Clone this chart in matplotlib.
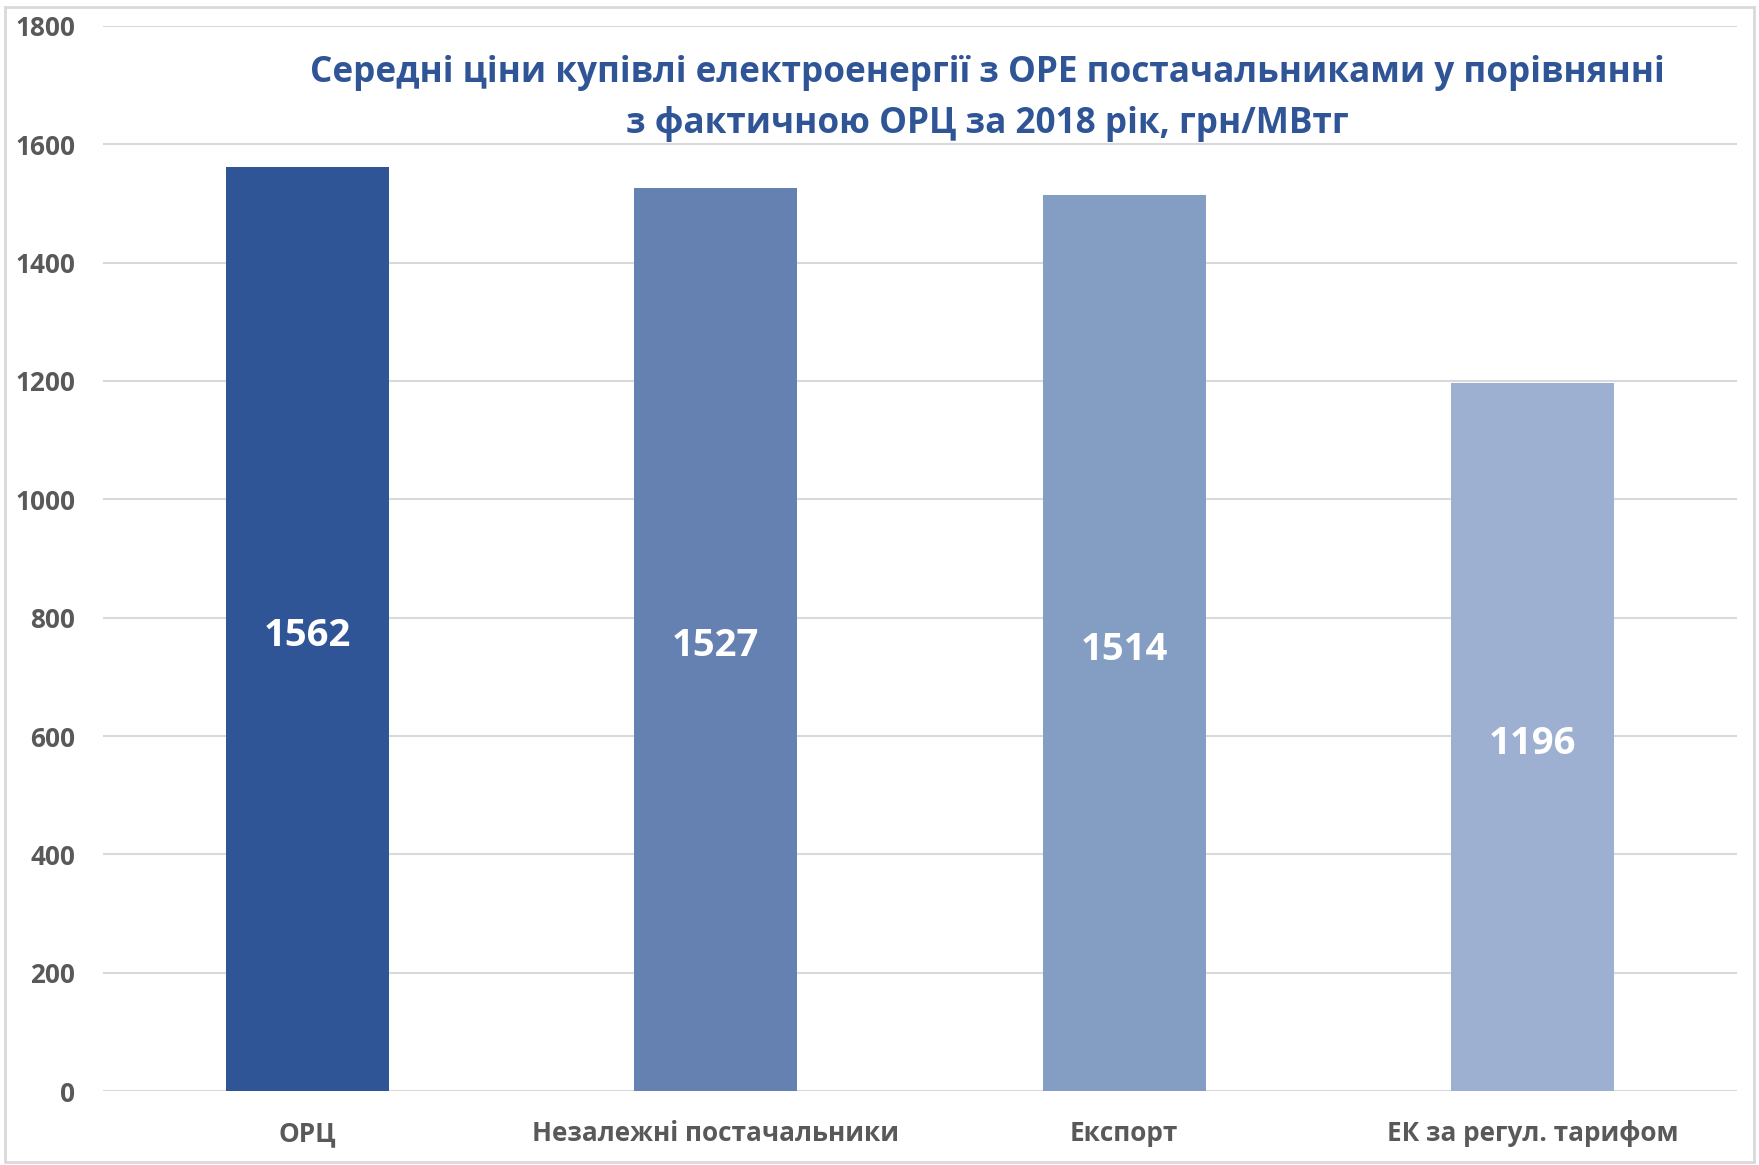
import matplotlib
matplotlib.use("Agg")
import matplotlib.pyplot as plt
from matplotlib import font_manager
from matplotlib.patches import Rectangle

categories = ["ОРЦ", "Незалежні постачальники", "Експорт", "ЕК за регул. тарифом"]
values = [1562, 1527, 1514, 1196]
bar_colors = ["#2F5597", "#6581B1", "#849DC3", "#9DB0D1"]
yticks = [0, 200, 400, 600, 800, 1000, 1200, 1400, 1600, 1800]
title = ("Середні ціни купівлі електроенергії з ОРЕ постачальниками у порівнянні\n"
         "з фактичною ОРЦ за 2018 рік, грн/МВтг")

# narrow font is closest to the original Calibri look, if it is there
installed = {f.name for f in font_manager.fontManager.ttflist}
family = "Liberation Sans Narrow" if "Liberation Sans Narrow" in installed else "Open Sans"
plt.rcParams["font.family"] = [family, "DejaVu Sans"]

fig = plt.figure(figsize=(17.59, 11.65), dpi=100)
fig.patches.append(Rectangle((0.003, 0.003), 0.994, 0.991, transform=fig.transFigure,
                             fill=False, edgecolor="#D9D9D9", linewidth=2))
ax = fig.add_axes([0.0586, 0.0635, 0.9289, 0.9142])

x = range(len(categories))
bars = ax.bar(x, values, width=0.4, color=bar_colors, zorder=2)
for b, v in zip(bars, values):
    ax.annotate(str(v), (b.get_x() + b.get_width() / 2, v / 2),
                xytext=(0, -5), textcoords="offset points", ha="center", va="center",
                color="white", fontsize=27.5, fontweight="bold", zorder=3)

ax.set_xlim(-0.5, len(categories) - 0.5)
ax.set_ylim(0, 1800)
ax.set_yticks(yticks)
ax.set_xticks(list(x))
ax.set_xticklabels(categories)
ax.grid(axis="y", color="#D9D9D9", linewidth=1.5, zorder=0)
for s in ax.spines.values():
    s.set_visible(False)
ax.tick_params(length=0, colors="#595959", labelsize=18.8)
ax.tick_params(axis="y", pad=20)
ax.tick_params(axis="x", pad=21)
for lab in ax.get_xticklabels() + ax.get_yticklabels():
    lab.set_fontweight("bold")

fig.text(0.5615, 0.9155, title, ha="center", va="center", color="#2F5597",
         fontsize=25.3, fontweight="bold", linespacing=1.55)

fig.savefig("out.png", dpi=100)
